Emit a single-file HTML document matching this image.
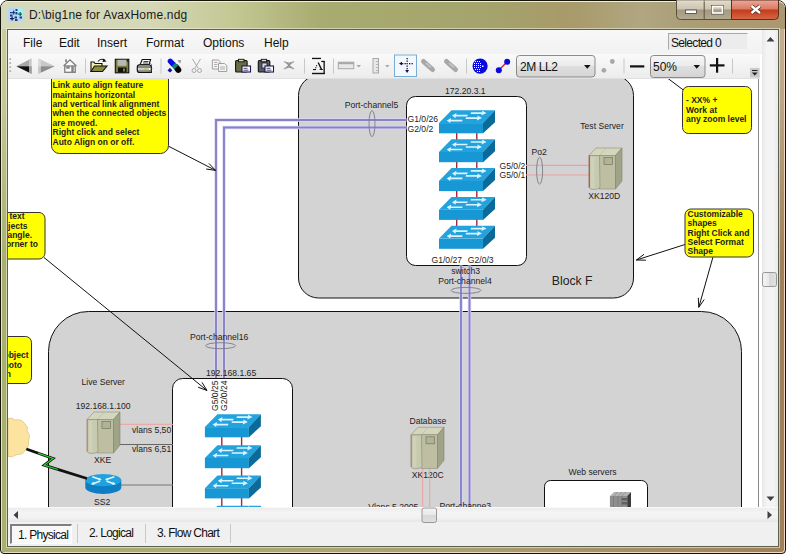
<!DOCTYPE html>
<html><head><meta charset="utf-8">
<style>
*{margin:0;padding:0;box-sizing:border-box}
html,body{width:786px;height:554px;overflow:hidden;background:#fff}
body{position:relative;font-family:"Liberation Sans",sans-serif}
.a{position:absolute}
#frame{left:0;top:0;width:786px;height:554px;border-radius:8px 8px 4px 4px;background:linear-gradient(180deg,rgba(255,255,240,0.4) 0,rgba(255,255,240,0.3) 100px,rgba(255,255,240,0) 260px),linear-gradient(90deg,#a8b070 0,#a8ac70 30%,#a8a070 60%,#a48c62 85%,#a08058 100%);border:1px solid #141408;box-shadow:inset 1px 1px 0 #e4e8c4,inset -1px -1px 0 #f0d8c8}
#titleglow{left:1px;top:1px;width:784px;height:28px;border-radius:7px 7px 0 0;background:linear-gradient(90deg,#d6dabc 0,#d4d8b6 150px,#c4c894 230px,#a8ac70 320px,#a4a46c 480px,#a89a6a 570px,#b0a680 640px,#aa9c74 700px,#ac9870 786px);border-top:1px solid #eef0dc}
#client{left:7px;top:29px;width:772px;height:518px;border:1px solid #5c6050;background:#fff;box-shadow:0 0 0 1px rgba(240,240,220,0.6)}
#title{left:29px;top:8px;font-size:12px;letter-spacing:0.2px;color:#1a1a1a;white-space:nowrap}
.menu{top:36px;font-size:12px;color:#111;white-space:nowrap}
#menubar{left:8px;top:30px;width:754px;height:24px;background:linear-gradient(#f8f8f8,#f2f2f2)}
#toolbar{left:8px;top:54px;width:752px;height:25px;background:linear-gradient(#fafafa,#ececec);border-bottom:1px solid #e0e0e0}
#vscroll{left:762px;top:30px;width:16px;height:477px;background:linear-gradient(90deg,#e8e8e8,#f4f4f4 30%,#f4f4f4 70%,#eaeaea)}
#hscroll{left:8px;top:507px;width:770px;height:15px;background:linear-gradient(#fafafa 0,#fafafa 1px,#ececec 1px,#f4f4f4 35%,#f2f2f2 70%,#e6e6e6)}
#tabbar{left:8px;top:522px;width:770px;height:24px;background:#f0f0f0}
.tab{top:524px;height:20px;font-size:12px;color:#111;white-space:nowrap;line-height:19px;letter-spacing:-0.72px}
.sep{width:1px;background:#c8c8c8}
</style></head><body>
<div class="a" id="frame"></div>
<div class="a" id="titleglow"></div>
<div class="a" id="title">D:\big1ne for AvaxHome.ndg</div>
<div class="a" id="client"></div>
<div class="a" id="menubar"></div>
<div class="a menu" style="left:23px">File</div>
<div class="a menu" style="left:59px">Edit</div>
<div class="a menu" style="left:97px">Insert</div>
<div class="a menu" style="left:146px">Format</div>
<div class="a menu" style="left:203px">Options</div>
<div class="a menu" style="left:264px">Help</div>
<div class="a" style="left:668px;top:33px;width:80px;height:17px;padding-top:2px;background:#ececec;border-top:1px solid #a8a8a8;border-left:1px solid #a8a8a8;border-right:1px solid #f4f4f4;border-bottom:1px solid #f4f4f4;font-size:12px;letter-spacing:-0.67px;color:#111;padding-left:2px;line-height:15px">Selected 0</div>
<svg class="a" style="left:0;top:0" width="786" height="554" viewBox="0 0 786 554" font-family="Liberation Sans, sans-serif">
<defs>
<clipPath id="cv"><rect x="8" y="79" width="750" height="428"/></clipPath>
<g id="sw">
<path d="M12.5,0.5 L56,0.5 L44,13.3 L0,13.3 Z" fill="#22a3de"/>
<rect x="0" y="13.3" width="44" height="10.2" fill="#1798d4"/>
<path d="M44,13.3 L56,0.5 L56,12.5 L44,23.5 Z" fill="#0a6a9a"/>
<g fill="#dcf4ff">
<path d="M13,5.8 L17.5,3.2 L17.2,5 L28.7,5 L28.2,6.6 L16.8,6.6 L16.5,8.4 Z"/>
<path d="M47.6,3.3 L43,0.9 L43.3,2.5 L32,2.5 L31.6,4.1 L42.8,4.1 L42.5,5.8 Z"/>
<path d="M7.7,10.8 L12.2,8.2 L11.9,10 L23.6,10 L23.1,11.6 L11.5,11.6 L11.2,13.3 Z"/>
<path d="M43,8.3 L38.4,5.8 L38.7,7.5 L27,7.5 L26.6,9.1 L38.2,9.1 L37.9,10.8 Z"/>
</g>
</g>
<g id="srv">
<path d="M7,0 L33,0 L26.5,7.5 L0,7.5 Z" fill="#d4d6be" stroke="#8a8e72" stroke-width="0.6"/>
<path d="M17,0 L10.5,7.5" stroke="#b4b89c" stroke-width="0.6"/>
<rect x="10.5" y="7.5" width="16" height="33.5" fill="#bebea2" stroke="#8a8e72" stroke-width="0.6"/>
<path d="M0,7.5 L10.5,7.5 L11,39 Q10,41.5 5.5,41.5 Q0.5,41.5 0,39 Z" fill="#c6caae" stroke="#8a8e72" stroke-width="0.6"/>
<rect x="2" y="9" width="3.5" height="31" fill="#d2d6bc" opacity="0.7"/>
<path d="M26.5,7.5 L33,0 L33,33 L26.5,41 Z" fill="#9fa388" stroke="#80846a" stroke-width="0.6"/>
<rect x="15" y="9.5" width="8.5" height="7" fill="#b0b496" stroke="#74785e" stroke-width="0.7"/>
</g>
<g id="rtr">
<path d="M0,6.2 L0,13.5 A18,6.5 0 0 0 36,13.5 L36,6.2 Z" fill="#0e7ec4"/>
<ellipse cx="18" cy="6.2" rx="18" ry="6.2" fill="#20a2de"/>
<g stroke="#e0f6ff" stroke-width="1.6" fill="none">
<path d="M7,2.8 L15,5.6"/><path d="M29,2.8 L21,5.6"/><path d="M15,7.2 L7,10"/><path d="M21,7.2 L29,10"/>
</g>
<g fill="#e0f6ff">
<path d="M16.5,6 L12.5,6.4 L14,3.8 Z"/><path d="M19.5,6 L23.5,6.4 L22,3.8 Z"/>
<path d="M5.5,10.5 L8,7.8 L9.5,10.6 Z"/><path d="M30.5,10.5 L28,7.8 L26.5,10.6 Z"/>
</g>
</g>
</defs>
<g clip-path="url(#cv)">
<!-- Block F -->
<rect x="298.5" y="75.5" width="335" height="222.5" rx="20" fill="#d3d3d3" stroke="#111" stroke-width="1"/>
<!-- big block -->
<rect x="48.5" y="311.5" width="693" height="300" rx="40" fill="#d3d3d3" stroke="#111" stroke-width="1"/>
<!-- switch3 box -->
<rect x="406.5" y="96.5" width="120" height="169" rx="9" fill="#fff" stroke="#111" stroke-width="1"/>
<!-- red connectors -->
<g stroke="#a82838" stroke-width="1.4">
<path d="M456.7,130 V141 M476.8,130 V141 M456.7,159 V170 M476.8,159 V170 M456.7,188 V199 M476.8,188 V199 M456.7,217 V228 M476.8,217 V228"/>
</g>
<use href="#sw" x="439" y="109.8"/>
<use href="#sw" x="439" y="138.7"/>
<use href="#sw" x="439" y="167.6"/>
<use href="#sw" x="439" y="196.4"/>
<use href="#sw" x="439" y="225.3"/>
<!-- pink lines to test server -->
<g stroke="#f0a0a0" stroke-width="1.2"><path d="M526,165.3 H589 M526,175 H589"/></g>
<use href="#srv" x="589" y="148"/>
<path d="M589.3,155.5 V187.5" stroke="#c83030" stroke-width="0.9"/>
<!-- blue lines -->
<g fill="none" stroke="#dcd8f8" stroke-width="3.4">
<path d="M406.5,120 H216 V378"/>
<path d="M406.5,127.5 H224 V378"/>
<path d="M461,265.5 V507"/>
<path d="M469.5,265.5 V507"/>
</g>
<g fill="none" stroke="#8682c4" stroke-width="1.9">
<path d="M406.5,120 H216 V378"/>
<path d="M406.5,127.5 H224 V378"/>
<path d="M461,265.5 V507"/>
<path d="M469.5,265.5 V507"/>
</g>
<g fill="none" stroke="#7a7a8a" stroke-width="0.9">
<ellipse cx="372" cy="123.6" rx="3" ry="13"/>
<ellipse cx="539.6" cy="170.7" rx="3" ry="13.5"/>
<ellipse cx="466" cy="290.4" rx="15" ry="3"/>
<ellipse cx="220.6" cy="345.7" rx="15" ry="3"/>
</g>
<g font-size="8.6" fill="#222">
<text x="445" y="94.3">172.20.3.1</text>
<text x="344.7" y="108">Port-channel5</text>
<text x="407.5" y="122.2">G1/0/26</text>
<text x="407.5" y="131.7">G2/0/2</text>
<text x="499.5" y="168.5">G5/0/2</text>
<text x="499.5" y="178.2">G5/0/1</text>
<text x="580.3" y="128.5">Test Server</text>
<text x="531.6" y="154.8">Po2</text>
<text x="588.3" y="199.2">XK120D</text>
<text x="431.5" y="262.5">G1/0/27</text>
<text x="467.8" y="262.5">G2/0/3</text>
<text x="451.3" y="274.2">switch3</text>
<text x="438.2" y="284.2">Port-channel4</text>
</g>
<text x="551.8" y="285" font-size="12.2" fill="#222">Block F</text>
<!-- switch2 box -->
<rect x="172.5" y="378.5" width="120" height="200" rx="10" fill="#fff" stroke="#111" stroke-width="1"/>
<g stroke="#a82838" stroke-width="1.4">
<path d="M221.8,434 V446 M241.6,434 V446 M221.8,465 V476 M241.6,465 V476 M221.8,495 V507 M241.6,495 V507"/>
</g>
<use href="#sw" x="204.9" y="413.8"/>
<use href="#sw" x="204.9" y="444.7"/>
<use href="#sw" x="204.9" y="474.9"/>
<use href="#sw" x="204.9" y="505.3"/>
<g font-size="8.6" fill="#222">
<text x="190" y="340.2">Port-channel16</text>
<text x="206" y="376.2">192.168.1.65</text>
<text transform="translate(217.7,411) rotate(-90)">G5/0/25</text>
<text transform="translate(227.1,411) rotate(-90)">G2/0/24</text>
<text x="81.5" y="385.1">Live Server</text>
<text x="75.7" y="409.1">192.168.1.100</text>
<text x="94" y="462.9">XKE</text>
<text x="132" y="433.2">vlans 5,50</text>
<text x="132" y="452.2">vlans 6,51</text>
<text x="94" y="504.6">SS2</text>
<text x="409.5" y="424.2">Database</text>
<text x="411.7" y="478.2">XK120C</text>
<text x="568.5" y="474.8">Web servers</text>
<text x="368.2" y="509.8">Vlans 5,2005</text>
<text x="439.5" y="509">Port-channe3</text>
</g>
<g stroke-width="1">
<path d="M120,424.3 H173" stroke="#f0a0a0"/>
<path d="M120,444.5 H173" stroke="#666"/>
<path d="M121,485 H173" stroke="#777"/>
</g>
<use href="#srv" x="87" y="412"/>
<path d="M87.3,419.5 V451.5" stroke="#d07060" stroke-width="0.8"/>
<use href="#rtr" x="85.3" y="473.9"/>
<!-- cloud -->
<path d="M8,418.5 Q12,417 15,420 Q22,418.5 25,424 Q29,427 27,431 Q31,435 28.5,441 Q29.5,447 25.5,449.5 Q23.5,455 17,454.5 Q12,458 8,456.5 Z" fill="#fde3a0" stroke="#d4bc80" stroke-width="0.6"/>
<!-- lightning -->
<path d="M26.3,449 L53,458.4 L44.2,465.2 L87,478.5" fill="none" stroke="#111" stroke-width="2.8" stroke-linejoin="miter"/>
<path d="M38,453.2 L53,458.4 L44.2,465.2 L58,469.5" fill="none" stroke="#28d028" stroke-width="1.3"/>
<!-- database -->
<g stroke="#f0a0a0" stroke-width="1"><path d="M422.7,467 V507 M429.7,467 V507"/></g>
<use href="#srv" x="411" y="427.3" />
<path d="M411.3,435 V467" stroke="#b87060" stroke-width="0.8"/>
<!-- web servers -->
<rect x="544.5" y="480.5" width="103" height="60" rx="6" fill="#fff" stroke="#111" stroke-width="1"/>
<g>
<rect x="609.9" y="496" width="17.3" height="12" fill="#8e8e8e"/>
<path d="M614,491.9 L631,491.9 L627.2,496 L609.9,496 Z" fill="#b4b4b4"/>
<path d="M613.5,496 V508 M618,496 V508 M621.5,496 V508" stroke="#787878" stroke-width="0.8"/>
<path d="M617.5,492 L614,496 M622,492 L618.5,496 M625.5,492 L622,496" stroke="#888" stroke-width="0.7"/>
<rect x="622" y="498" width="5" height="2.5" fill="#606060"/><rect x="622" y="502" width="5" height="2.5" fill="#606060"/>
<path d="M627.2,496 L631,491.9 L631,508 L627.2,508 Z" fill="#3c3c3c"/>
</g>
<!-- callouts -->
<g stroke="#111" stroke-width="1" fill="none">
<path d="M168.5,146.2 L215.6,170.4"/><path d="M209.0,163.5 L215.6,170.4 L206.2,169.0"/>
<path d="M44.0,257.5 L207.0,390.5"/><path d="M202.0,382.4 L207.0,390.5 L198.1,387.2"/>
<path d="M668,78.5 L684,90.5"/>
<path d="M685.0,244.5 L636.4,260.0"/><path d="M645.9,260.2 L636.4,260.0 L644.0,254.3"/>
<path d="M712.9,257.3 L698.8,307.3"/><path d="M704.2,299.5 L698.8,307.3 L698.3,297.8"/>
</g>
<g fill="#ffff00" stroke="#333" stroke-width="1">
<rect x="51.5" y="60" width="117" height="93.5" rx="8"/>
<rect x="-20" y="212.5" width="65" height="46.5" rx="6"/>
<rect x="-20" y="336.5" width="51.5" height="47" rx="6"/>
<rect x="682.5" y="86.5" width="69" height="47" rx="6"/>
<rect x="685" y="209" width="68.5" height="48" rx="6"/>
</g>
<g font-size="8.5" font-weight="bold" fill="#222">
<text x="52.5" y="88.2">Link auto align feature</text>
<text x="52.5" y="97.6">maintains horizontal</text>
<text x="52.5" y="107">and vertical link alignment</text>
<text x="52.5" y="116.4">when the connected objects</text>
<text x="52.5" y="125.8">are moved.</text>
<text x="52.5" y="135.2">Right click and select</text>
<text x="52.5" y="144.6">Auto Align on or off.</text>
<g text-anchor="end">
<text x="24.5" y="219.2">of text</text>
<text x="27.5" y="228.6">objects</text>
<text x="32" y="238">rectangle.</text>
<text x="38" y="247.4">corner to</text>
<text x="28.5" y="358.2">object</text>
<text x="22" y="367.6">photo</text>
<text x="11" y="377">on</text>
</g>
<text x="686" y="103.3">- XX% +</text>
<text x="686" y="112.6">Work at</text>
<text x="686" y="121.9">any zoom level</text>
<text x="687.5" y="216.7">Customizable</text>
<text x="687.5" y="226.1">shapes</text>
<text x="687.5" y="235.5">Right Click and</text>
<text x="687.5" y="244.9">Select Format</text>
<text x="687.5" y="254.3">Shape</text>
</g>
</g>
<!-- canvas right border -->
<rect x="758" y="79" width="1" height="428" fill="#8c8c8c"/><rect x="759" y="79" width="3" height="428" fill="#fff"/>
</svg>

<div class="a" id="toolbar"></div>
<div class="a" id="vscroll"></div>
<div class="a" id="hscroll"></div>
<div class="a" id="tabbar"></div>
<div class="a tab" style="left:10px;width:62px;border-top:2px solid #808080;border-left:2px solid #808080;border-right:1px solid #fff;border-bottom:1px solid #fff;background:#f8f8f8;padding-left:6px">1. Physical</div>
<div class="a sep" style="left:77px;top:524px;height:19px"></div>
<div class="a tab" style="left:89px">2. Logical</div>
<div class="a sep" style="left:145px;top:524px;height:19px"></div>
<div class="a tab" style="left:157px">3. Flow Chart</div>
<div class="a sep" style="left:230px;top:524px;height:19px"></div>
<svg class="a" style="left:0;top:0" width="786" height="554" viewBox="0 0 786 554" font-family="Liberation Sans, sans-serif">
<defs>
<linearGradient id="gdd" x1="0" y1="0" x2="0" y2="1"><stop offset="0" stop-color="#f6f6f6"/><stop offset="0.5" stop-color="#ebebeb"/><stop offset="0.5" stop-color="#dfdfdf"/><stop offset="1" stop-color="#d4d4d4"/></linearGradient>
<linearGradient id="gmin" x1="0" y1="0" x2="0" y2="1"><stop offset="0" stop-color="#e2dccc"/><stop offset="0.45" stop-color="#cec6b2"/><stop offset="0.52" stop-color="#a49a82"/><stop offset="1" stop-color="#b4aa92"/></linearGradient>
<linearGradient id="gcls" x1="0" y1="0" x2="0" y2="1"><stop offset="0" stop-color="#eca898"/><stop offset="0.45" stop-color="#dc7c68"/><stop offset="0.52" stop-color="#c43c1c"/><stop offset="1" stop-color="#d86848"/></linearGradient>
<linearGradient id="gthumb" x1="0" y1="0" x2="1" y2="0"><stop offset="0" stop-color="#f4f4f4"/><stop offset="0.5" stop-color="#e8e8e8"/><stop offset="0.5" stop-color="#d8d8d8"/><stop offset="1" stop-color="#e0e0e0"/></linearGradient>
<linearGradient id="gthumbh" x1="0" y1="0" x2="0" y2="1"><stop offset="0" stop-color="#f4f4f4"/><stop offset="0.5" stop-color="#e8e8e8"/><stop offset="0.5" stop-color="#d8d8d8"/><stop offset="1" stop-color="#e0e0e0"/></linearGradient>
</defs>
<!-- title icon -->
<rect x="8" y="8" width="15.5" height="13.5" fill="#b8d8f0"/>
<rect x="16" y="8.5" width="7" height="7" fill="#a8f0f0"/>
<g fill="#1c3c8c">
<path d="M10,12 h3 v-1.5 h1.2 v1.5 h1 v1.2 h-1 v1.3 h-1.2 v-1.3 h-3 Z"/>
<rect x="15.5" y="9" width="2" height="2"/><rect x="15.5" y="12" width="2" height="2.5"/>
<path d="M18,13.5 h1.6 v-1.5 h1.2 v1.5 h1.2 v1.2 h-1.2 v1.3 h-1.2 v-1.3 h-1.6 Z" fill="#186060"/>
<rect x="10" y="14.5" width="2.5" height="2"/>
<path d="M10,18 h1.5 v-1.5 h1.2 v1.5 h1.2 v1.2 h-1.2 v1.3 h-1.2 v-1.3 h-1.5 Z" fill="#101a60"/>
<rect x="14.5" y="16.5" width="2.5" height="2"/><rect x="15" y="19" width="2.5" height="2"/>
<rect x="19.5" y="16.5" width="2.5" height="2"/>
</g>
<!-- window buttons -->
<path d="M676.5,0 V15.5 Q676.5,19.5 680.5,19.5 H731.5 V0 Z" fill="url(#gmin)" stroke="#5a5040" stroke-width="1"/>
<path d="M704.2,0 V19.5" stroke="#5a5040" stroke-width="1"/>
<path d="M677.5,1 H730.5" stroke="#f0e8d8" stroke-width="1" opacity="0.6"/>
<path d="M731.5,0 V19.5 H774.5 Q778.5,19.5 778.5,15.5 V0 Z" fill="url(#gcls)" stroke="#5a3020" stroke-width="1"/>
<rect x="685.5" y="10" width="11" height="3.5" fill="#fff" stroke="#404040" stroke-width="0.8"/>
<rect x="711.5" y="5.5" width="12" height="8.5" fill="none" stroke="#404040" stroke-width="0.8"/>
<rect x="712.5" y="6.5" width="10" height="6.5" fill="none" stroke="#fff" stroke-width="1.6"/>
<path d="M751.5,6 L760,13 M760,6 L751.5,13" stroke="#502818" stroke-width="4"/>
<path d="M751.5,6 L760,13 M760,6 L751.5,13" stroke="#fff" stroke-width="2.4"/>
<!-- grip -->
<g fill="#b4b4b4"><rect x="9.3" y="58.2" width="1.8" height="1.8"/><rect x="9.3" y="62.2" width="1.8" height="1.8"/><rect x="9.3" y="66.2" width="1.8" height="1.8"/><rect x="9.3" y="70.2" width="1.8" height="1.8"/></g>
<!-- back / forward -->
<path d="M16.3,66.2 L31.4,58.6 L31.4,66.2 Z" fill="#a8a8a8"/>
<path d="M16.3,66.2 L31.4,66.2 L31.4,73.8 Z" fill="#111"/>
<rect x="29" y="59.5" width="2.4" height="14" fill="#d8d8d8" opacity="0.7"/>
<path d="M54.8,66.2 L38.5,58.6 L38.5,66.2 Z" fill="#c8c8c8"/>
<path d="M54.8,66.2 L38.5,66.2 L38.5,73.8 Z" fill="#8c8c8c"/>
<rect x="38.5" y="59" width="2.4" height="14.5" fill="#e0e0e0" opacity="0.7"/>
<!-- home -->
<path d="M63.6,66 L69.9,59.8 L76.4,66" fill="#fafafa" stroke="#7c7c7c" stroke-width="1.3"/>
<rect x="64.8" y="66" width="10.4" height="6.3" fill="#fafafa" stroke="#7c7c7c" stroke-width="1.3"/>
<rect x="65.2" y="59.3" width="1.6" height="2.8" fill="#7c7c7c"/>
<rect x="66.3" y="66.3" width="3.4" height="2.4" fill="#808080"/><rect x="71.3" y="66.3" width="2.4" height="6" fill="#808080"/>
<!-- separators -->
<g fill="#c8c8c8">
<rect x="85" y="58.5" width="1" height="15"/><rect x="160.5" y="58.5" width="1" height="15"/><rect x="304" y="58.5" width="1" height="15"/><rect x="333" y="58.5" width="1" height="15"/><rect x="466" y="58.5" width="1" height="15"/><rect x="623.5" y="58.5" width="1" height="15"/><rect x="732" y="58.5" width="1" height="15"/>
</g>
<!-- open folder -->
<path d="M91,71.5 V62 L94,62 L95,63.5 L102,63.5 V71.5 Z" fill="#f0f0a8" stroke="#111" stroke-width="1.1"/>
<path d="M91,71.5 L94.5,66 L107,66 L102.5,71.5 Z" fill="#8c8c3c" stroke="#111" stroke-width="1.1"/>
<path d="M98,61.5 Q101,57.5 105,60.5" fill="none" stroke="#111" stroke-width="1.1"/>
<path d="M103.5,58.5 L106.5,61.5 L102.5,62 Z" fill="#111"/>
<!-- floppy -->
<rect x="115.3" y="59.3" width="13.5" height="13.5" fill="#7c7c3c" stroke="#111" stroke-width="1.1"/>
<rect x="117.5" y="59.8" width="9" height="6" fill="#b8b8b8"/>
<rect x="118" y="67.5" width="8.5" height="5" fill="#111"/>
<rect x="123" y="68.5" width="2" height="3" fill="#7c7c3c"/>
<rect x="126.8" y="60" width="1.5" height="1.5" fill="#111"/>
<!-- printer -->
<path d="M142.2,59.5 L150.6,59.5 L149,64.5 L140.2,64.5 Z" fill="#fff" stroke="#111" stroke-width="1.1"/>
<path d="M143.5,61.5 h5 M143,63 h5" stroke="#111" stroke-width="0.8"/>
<path d="M139.5,64.8 L149.5,64.8 L151.3,66 L151.3,72.5 L139.5,72.5 Q137.3,72.5 137.3,70 L137.3,67.3 Q137.3,64.8 139.5,64.8 Z" fill="#fff" stroke="#111" stroke-width="1.2"/>
<rect x="138" y="66.5" width="12.5" height="1" fill="#111"/>
<rect x="138.2" y="68.2" width="11" height="2" fill="#c4c8b0"/>
<rect x="144" y="68.2" width="4" height="2" fill="#b8d060"/>
<rect x="138" y="70.6" width="12.5" height="0.9" fill="#111"/>
<g fill="#333"><rect x="149.5" y="63" width="1" height="1"/><rect x="151" y="64.5" width="1" height="1"/><rect x="149.8" y="66.5" width="1" height="1"/><rect x="151.2" y="68" width="1" height="1"/><rect x="149.5" y="70.5" width="1" height="1"/></g>
<!-- eraser -->
<path d="M176.5,67.5 L178.3,69.8" stroke="#000" stroke-width="6" stroke-linecap="round"/>
<path d="M170.3,61.2 L173.5,64.6" stroke="#0a10e0" stroke-width="5.2" stroke-linecap="round"/>
<path d="M173.5,64.6 L176.3,67.4" stroke="#108080" stroke-width="5.2"/>
<path d="M167.5,70.5 L170,67.8 L172.3,70.5 L170,72.6 Z" fill="#1010a8"/>
<path d="M177.5,60.5 L181,60 L180.3,63.5 Z" fill="#909090"/>
<!-- scissors -->
<g fill="none" stroke="#a0a0a0" stroke-width="0.9">
<path d="M192.5,59 L198,68 M200.5,59 L195,68"/>
<circle cx="194" cy="70.5" r="2"/><circle cx="199.5" cy="70.5" r="2"/>
</g>
<!-- copy -->
<g fill="#f4f4f4" stroke="#a0a0a0" stroke-width="1">
<path d="M212.3,60 H218.5 L220,61.5 V69 H212.3 Z"/>
<path d="M218.5,63.5 H224.5 L226.8,65.5 V71.5 H218.5 Z"/>
</g>
<g stroke="#a0a0a0" stroke-width="0.8"><path d="M214,62.5 h3.5 M214,64.5 h3.5 M214,66.5 h3 M220,67 h5 M220,69 h5"/></g>
<!-- paste -->
<rect x="235.6" y="60.5" width="11.5" height="11.5" rx="1" fill="#6c6c44" stroke="#111" stroke-width="1.1"/>
<rect x="238.5" y="59.3" width="5.5" height="2.5" fill="#d8d8c0" stroke="#111" stroke-width="0.9"/>
<rect x="242" y="66" width="8.5" height="6" fill="#fff" stroke="#1a1a50" stroke-width="1.1"/>
<path d="M243.5,68.3 h4 M243.5,70.2 h5" stroke="#1a1a50" stroke-width="0.8"/>
<!-- paste special -->
<rect x="258.3" y="60.5" width="11.5" height="11.5" rx="1" fill="#585864" stroke="#111" stroke-width="1.1"/>
<rect x="261.2" y="59.3" width="5.5" height="2.5" fill="#d8d8d8" stroke="#111" stroke-width="0.9"/>
<rect x="262" y="63" width="5" height="5" fill="#d8d8e8" stroke="#111" stroke-width="0.7"/>
<rect x="265" y="66" width="8.5" height="6" fill="#fff" stroke="#1a1a50" stroke-width="1.1"/>
<path d="M266.5,68.3 h4 M266.5,70.2 h5" stroke="#1a1a50" stroke-width="0.8"/>
<!-- delete x -->
<g stroke="#a0a0a0" stroke-width="1.3" fill="none"><path d="M284,61.5 Q289,65 294,61.5 M284,69 Q289,65 294,69"/><path d="M286.5,62.5 L291.5,68 M291.5,62.5 L286.5,68" stroke="#909090"/></g>
<!-- text icon -->
<g fill="#111">
<rect x="312" y="57.8" width="9" height="1.3"/>
<rect x="321.3" y="60.8" width="3.2" height="1.3"/>
<rect x="323.5" y="61" width="1.3" height="13"/>
<rect x="312" y="72.8" width="12.8" height="1.4"/>
<path d="M317.6,62.8 L318.8,62.3 L322.2,69.2 L323,69.2 L323,70 L319.5,70 L319.5,69.2 L320.6,69.2 Z"/>
<rect x="316" y="65.2" width="1.1" height="1.1"/><rect x="315.2" y="67.2" width="1.1" height="1.1"/>
<rect x="313" y="69" width="3" height="1.1"/>
</g>
<!-- h ruler -->
<rect x="338.3" y="62.2" width="15.5" height="6.5" fill="#e8e8e8" stroke="#a8a8a8" stroke-width="1"/>
<rect x="338.3" y="62.2" width="15.5" height="2" fill="#a8a8a8"/>
<path d="M356.5,65 L361,65 L358.75,67.5 Z" fill="#a8a8a8"/>
<!-- v ruler -->
<rect x="373" y="58.5" width="5.5" height="14.5" fill="#e8e8e8" stroke="#a8a8a8" stroke-width="1"/>
<path d="M376,61.5 h2 M376,64.5 h2 M376,67.5 h2 M376,70.5 h2" stroke="#a8a8a8" stroke-width="0.8"/>
<path d="M385,65 L389.5,65 L387.25,67.5 Z" fill="#a8a8a8"/>
<!-- pressed align button -->
<rect x="394.5" y="55" width="22" height="21.5" fill="#f2f8fc" stroke="#78acd4" stroke-width="1"/>
<g fill="#101050">
<rect x="402" y="63" width="1.3" height="1.3"/><rect x="404.5" y="63" width="1.3" height="1.3"/><rect x="409" y="63" width="1.3" height="1.3"/><rect x="411.5" y="63" width="1.3" height="1.3"/>
<path d="M399,63.6 L402,61.8 L402,65.4 Z"/>
<rect x="406.5" y="58" width="1.3" height="1.3"/><rect x="406.5" y="60.5" width="1.3" height="1.3"/><rect x="406.5" y="63" width="1.3" height="1.3"/><rect x="406.5" y="65.5" width="1.3" height="1.3"/><rect x="406.5" y="68" width="1.3" height="1.3"/>
<path d="M407.1,73 L405.2,70 L409,70 Z"/>
</g>
<!-- grey link icons -->
<g stroke="#a8a8a8" stroke-width="5" stroke-linecap="round"><path d="M423.5,61.5 L432.5,69.5 M446.5,61.5 L455.5,69.5"/></g>
<g stroke="#c8c8c8" stroke-width="1.5"><path d="M426,63 L431,67.5 M449,63 L454,67.5"/></g>
<!-- globe -->
<circle cx="480.1" cy="66.1" r="7.6" fill="#0808e0"/>
<g fill="#fff">
<rect x="475" y="61" width="1" height="1"/><rect x="477" y="61" width="1" height="1"/><rect x="479" y="61" width="1" height="1"/>
<rect x="474" y="63" width="1" height="1"/><rect x="476" y="63" width="1" height="1"/><rect x="478" y="63" width="1" height="1"/><rect x="480" y="63" width="1" height="1"/>
<rect x="474" y="65" width="1" height="1"/><rect x="476" y="65" width="1" height="1"/><rect x="478" y="65" width="1" height="1"/><rect x="480" y="65" width="1" height="1"/><rect x="482" y="65.5" width="1.5" height="1.5"/>
<rect x="474" y="67" width="1" height="1"/><rect x="476" y="67" width="1" height="1"/><rect x="478" y="67" width="1" height="1"/><rect x="480" y="67" width="1" height="1"/>
<rect x="475" y="69" width="1" height="1"/><rect x="477" y="69" width="1" height="1"/><rect x="479" y="69" width="1" height="1"/>
<rect x="477" y="71" width="1" height="1"/><rect x="479" y="71" width="1" height="1"/>
</g>
<!-- link icon -->
<path d="M498.8,70.3 L507.2,61.8" stroke="#c02040" stroke-width="1.3"/>
<circle cx="498.8" cy="70.3" r="3" fill="#0808e0"/><circle cx="507.2" cy="61.8" r="3" fill="#0808e0"/>
<!-- dropdown 2M LL2 -->
<rect x="516.5" y="55.5" width="78.5" height="21.5" rx="3" fill="url(#gdd)" stroke="#8a8a8a" stroke-width="1"/>
<text x="520" y="71" font-size="12" letter-spacing="-0.4" fill="#111">2M LL2</text>
<path d="M584,65 L590.6,65 L587.3,68.8 Z" fill="#111"/>
<!-- grey dots -->
<circle cx="603.9" cy="70.3" r="2.4" fill="#a8a8a8"/><circle cx="612.3" cy="61.5" r="2.4" fill="#a8a8a8"/>
<!-- minus -->
<rect x="630" y="65.3" width="14.3" height="2.2" fill="#111"/>
<!-- zoom dropdown -->
<rect x="650.5" y="55.5" width="54.5" height="22" rx="3" fill="url(#gdd)" stroke="#8a8a8a" stroke-width="1"/>
<text x="653" y="71" font-size="12" fill="#111">50%</text>
<path d="M693.5,65 L700,65 L696.75,68.8 Z" fill="#111"/>
<!-- plus -->
<rect x="709.8" y="64.3" width="14.7" height="2.2" fill="#111"/><rect x="716" y="58" width="2.2" height="14.7" fill="#111"/>
<!-- chevron -->
<rect x="750" y="68" width="9.5" height="9.5" fill="#c8c8c8"/>
<path d="M752,70.5 h5.5" stroke="#222" stroke-width="1"/><path d="M751.8,72.5 L757.7,72.5 L754.75,75.5 Z" fill="#222"/>
<!-- vscroll -->
<path d="M766.5,41.5 L774.5,41.5 L770.5,37 Z" fill="#404040"/>
<path d="M766.5,496.5 L774.5,496.5 L770.5,501 Z" fill="#404040"/>
<rect x="762.5" y="272.5" width="14" height="14" rx="2" fill="url(#gthumb)" stroke="#989898" stroke-width="1"/>
<!-- hscroll -->
<path d="M18,511 L18,519 L13.5,515 Z" fill="#404040"/>
<path d="M767.5,511 L767.5,519 L772,515 Z" fill="#404040"/>
<rect x="422" y="508" width="14.5" height="14.5" rx="2" fill="url(#gthumbh)" stroke="#989898" stroke-width="1"/>
</svg>

</body></html>
